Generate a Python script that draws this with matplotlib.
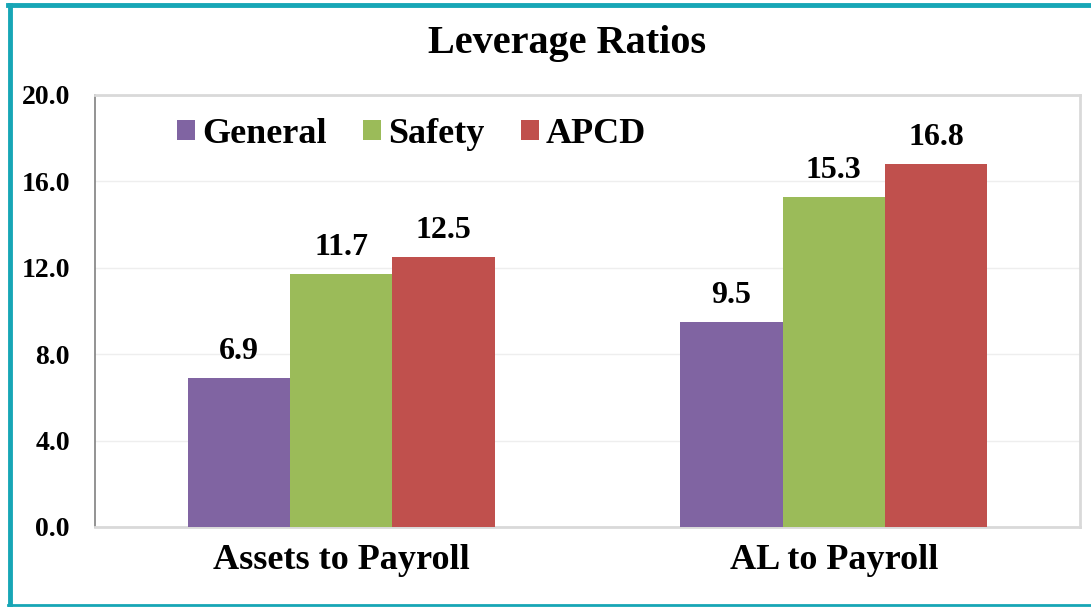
import matplotlib.pyplot as plt
import numpy as np
from matplotlib.lines import Line2D

categories = ["Assets to Payroll", "AL to Payroll"]
series = ["General", "Safety", "APCD"]
general = [6.9, 9.5]
safety = [11.7, 15.3]
apcd = [12.5, 16.8]
colors = ["#8064A2", "#9BBB59", "#C0504D"]
yticks = [0, 4, 8, 12, 16, 20]

plt.rcParams['font.family'] = ['Liberation Serif', 'DejaVu Serif']
plt.rcParams['font.weight'] = 'bold'

fig = plt.figure(figsize=(10.91, 6.07), dpi=100)
ax = fig.add_axes([95 / 1091, 1 - 527 / 607, 985 / 1091, 432 / 607])

x = np.arange(len(categories))
w = 0.208
for i, (name, vals) in enumerate(zip(series, [general, safety, apcd])):
    bars = ax.bar(x + (i - 1) * w, vals, w, color=colors[i], label=name, zorder=3)
    for b, v in zip(bars, vals):
        ax.text(b.get_x() + b.get_width() / 2, v + 0.55, f"{v:.1f}",
                ha='center', va='bottom', fontsize=23, fontweight='bold')

ax.set_xlim(-0.5, 1.5)
ax.set_ylim(0, 20)
ax.set_yticks(yticks)
ax.set_yticklabels([f"{t:.1f}" for t in yticks], fontsize=20, fontweight='bold')
ax.set_xticks(x)
ax.set_xticklabels(categories, fontsize=26, fontweight='bold')
ax.tick_params(axis='y', length=0, pad=18)
ax.tick_params(axis='x', length=0, pad=12)
ax.grid(axis='y', color='#EEEEEE', lw=1, zorder=0)

for s in ['top', 'right', 'bottom']:
    ax.spines[s].set_color('#D9D9D9')
    ax.spines[s].set_linewidth(2)
ax.spines['left'].set_color('#808080')
ax.spines['left'].set_linewidth(1.2)

ax.legend(loc='upper left', bbox_to_anchor=(0.05, 1.022), ncol=3, frameon=False,
          prop={'size': 26, 'weight': 'bold'}, handlelength=0.5, handleheight=0.5,
          handletextpad=0.2, columnspacing=1.0)

fig.text(0.52, 1 - 44 / 607, "Leverage Ratios", ha='center', va='center',
         fontsize=29, fontweight='bold')

# teal frame: left, top, bottom edges
teal = '#17A6B6'
fig.add_artist(Line2D([9.5 / 1091, 9.5 / 1091], [2 / 607, 1 - 5 / 607],
                      transform=fig.transFigure, color=teal, lw=3.5))
fig.add_artist(Line2D([8 / 1091, 1.0], [1 - 5 / 607, 1 - 5 / 607],
                      transform=fig.transFigure, color=teal, lw=3.5))
fig.add_artist(Line2D([8 / 1091, 1.0], [2 / 607, 2 / 607],
                      transform=fig.transFigure, color=teal, lw=2))

fig.savefig("out.png", dpi=100)
